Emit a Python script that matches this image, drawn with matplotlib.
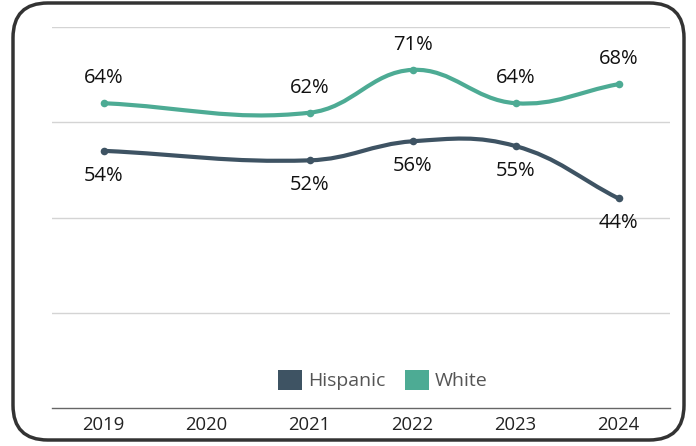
import numpy as np
import matplotlib
matplotlib.use("Agg")
import matplotlib.pyplot as plt
from matplotlib.path import Path
from matplotlib.patches import PathPatch, FancyBboxPatch, Patch

plt.rcParams['font.family'] = ['Open Sans', 'DejaVu Sans']

years = ['2019', '2020', '2021', '2022', '2023', '2024']
hispanic = [54, None, 52, 56, 55, 44]
white = [64, None, 62, 71, 64, 68]
series_names = ['Hispanic', 'White']
colors = {'Hispanic': '#3e5363', 'White': '#4dab94'}

W, H = 696, 446
fig = plt.figure(figsize=(W / 100, H / 100), dpi=100)

# rounded frame round the whole chart
frame = FancyBboxPatch((13 / W, 6 / H), 671 / W, 437 / H,
                       boxstyle="round,pad=0,rounding_size=0.05",
                       transform=fig.transFigure, fill=False,
                       edgecolor='#333333', linewidth=2.5,
                       mutation_aspect=W / H)
fig.patches.append(frame)

ax = fig.add_axes([52 / W, (H - 408) / H, 618 / W, 381 / H])
ax.set_xlim(-0.5, len(years) - 0.5)
ax.set_ylim(0, 80)
for s in ['top', 'left', 'right']:
    ax.spines[s].set_visible(False)
ax.spines['bottom'].set_color('#666666')
ax.spines['bottom'].set_linewidth(1)
for g in [20, 40, 60, 80]:
    ax.axhline(g, color='#d4d4d4', lw=1, zorder=0)
ax.set_yticks([])
ax.set_xticks(range(len(years)))
ax.set_xticklabels(years, fontsize=13.3, color='#222222')
ax.tick_params(axis='x', length=0, pad=6)


def spline_path(xs, ys, t=0.4):
    # chart.js style bezier smoothing, done in pixel space
    pts = ax.transData.transform(np.column_stack([xs, ys]))
    n = len(pts)
    cps = []
    for i in range(n):
        prev = pts[i - 1] if i > 0 else pts[i]
        cur = pts[i]
        nxt = pts[i + 1] if i < n - 1 else pts[i]
        d01 = np.hypot(*(cur - prev))
        d12 = np.hypot(*(nxt - cur))
        tot = d01 + d12
        s01 = d01 / tot if tot else 0
        s12 = d12 / tot if tot else 0
        cps.append((cur - t * s01 * (nxt - prev), cur + t * s12 * (nxt - prev)))
    verts = [pts[0]]
    codes = [Path.MOVETO]
    for i in range(n - 1):
        verts += [cps[i][1], cps[i + 1][0], pts[i + 1]]
        codes += [Path.CURVE4] * 3
    verts = ax.transData.inverted().transform(np.array(verts))
    return Path(verts, codes)


for name, vals, off in [('Hispanic', hispanic, -18), ('White', white, 18)]:
    xs = [i for i, v in enumerate(vals) if v is not None]
    ys = [v for v in vals if v is not None]
    c = colors[name]
    ax.add_patch(PathPatch(spline_path(xs, ys), fill=False, edgecolor=c,
                           lw=3, capstyle='round', zorder=3))
    ax.scatter(xs, ys, s=30, color=c, zorder=4, linewidths=0)
    for x, y in zip(xs, ys):
        ax.annotate(f'{y}%', (x, y), xytext=(0, off), textcoords='offset points',
                    ha='center', va='center', fontsize=14.5, color='#111111')

handles = [Patch(facecolor=colors[n], edgecolor='none', label=n) for n in series_names]
leg = fig.legend(handles=handles, loc='center', bbox_to_anchor=(383 / W, 1 - 380 / H),
                 ncol=2, frameon=False, fontsize=14, handlelength=1.25,
                 handleheight=1.25, handletextpad=0.3, columnspacing=1.0)
for txt in leg.get_texts():
    txt.set_color('#555555')

fig.savefig('out.png', dpi=100)
